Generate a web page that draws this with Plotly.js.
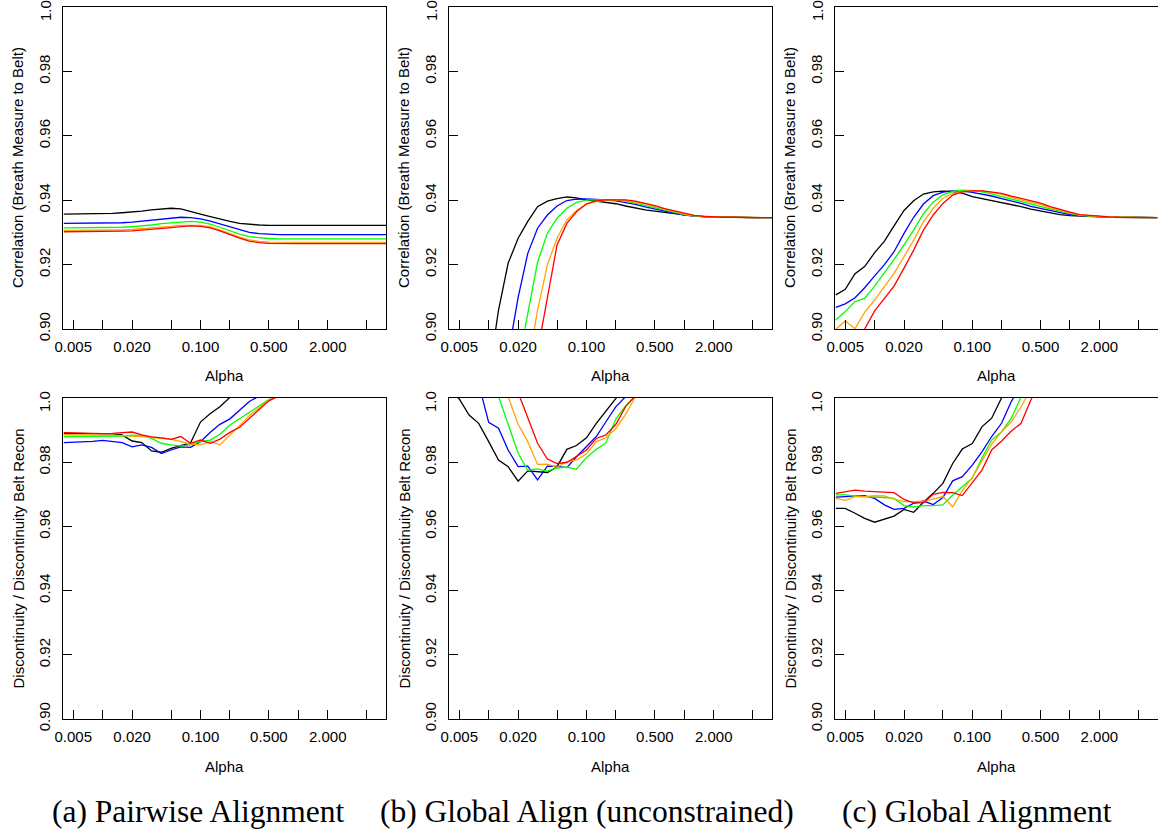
<!DOCTYPE html>
<html>
<head>
<meta charset="utf-8">
<script src="https://cdn.plot.ly/plotly-3.0.1.min.js"></script>
<style>
html, body { margin: 0; padding: 0; background: #ffffff; }
#chart { width: 1158px; height: 832px; }
</style>
</head>
<body>
<div id="chart"></div>
<script>
// ---------- shared x grid (alpha) and tick labels ----------
const ALPHA = [0.004, 0.005, 0.0063, 0.0079, 0.01, 0.0126, 0.0158, 0.02, 0.0251, 0.0316, 0.0398, 0.05, 0.063, 0.079, 0.1, 0.126, 0.158, 0.2, 0.251, 0.316, 0.398, 0.5, 0.63, 0.79, 1, 1.26, 1.58, 2, 2.51, 3.16, 3.98, 5, 6.3, 7.9];
const X_TICK_VALUES = [0.005, 0.01, 0.02, 0.05, 0.1, 0.2, 0.5, 1, 2, 5];
const X_TICK_TEXT = ["0.005", "", "0.020", "", "0.100", "", "0.500", "", "2.000", ""];
const Y_TICK_VALUES = [0.90, 0.92, 0.94, 0.96, 0.98, 1.00];
const Y_TICK_TEXT = ["0.90", "0.92", "0.94", "0.96", "0.98", ""];
const Y_TOP_LABEL = "1.0";   // top tick label, drawn just inside the figure edge
const SERIES_NAMES = ["black", "blue", "green", "orange", "red"];
const SERIES_COLORS = ["#000000", "#0000FF", "#00FF00", "#FFA500", "#FF0000"];
const X_TITLE = "Alpha";
const Y_TITLE_TOP = "Correlation (Breath Measure to Belt)";
const Y_TITLE_BOTTOM = "Discontinuity / Discontinuity Belt Recon";
const CAPTIONS = ["(a) Pairwise Alignment", "(b) Global Align (unconstrained)", "(c) Global Alignment"];

// ---------- (a) Pairwise alignment: correlation ----------
const CORR_PAIRWISE_BLACK  = [.9357,.9357,.9357,.9358,.9358,.9359,.9361,.9363,.9366,.9370,.9373,.9375,.9373,.9366,.9357,.9349,.9341,.9334,.9328,.9325,.9323,.9322,.9322,.9322,.9322,.9322,.9322,.9322,.9322,.9322,.9322,.9322,.9322,.9322];
const CORR_PAIRWISE_BLUE   = [.9328,.9328,.9328,.9328,.9328,.9329,.9330,.9332,.9335,.9338,.9342,.9345,.9347,.9346,.9342,.9335,.9326,.9316,.9307,.9300,.9296,.9294,.9293,.9293,.9293,.9293,.9293,.9293,.9293,.9293,.9293,.9293,.9293,.9293];
const CORR_PAIRWISE_GREEN  = [.9314,.9314,.9314,.9314,.9314,.9315,.9316,.9318,.9320,.9323,.9327,.9330,.9333,.9334,.9332,.9326,.9316,.9305,.9295,.9287,.9283,.9281,.9280,.9280,.9280,.9280,.9280,.9280,.9280,.9280,.9280,.9280,.9280,.9280];
const CORR_PAIRWISE_ORANGE = [.9306,.9306,.9306,.9306,.9306,.9307,.9308,.9309,.9311,.9313,.9316,.9319,.9322,.9323,.9322,.9317,.9308,.9296,.9285,.9277,.9272,.9270,.9269,.9269,.9269,.9269,.9269,.9269,.9269,.9269,.9269,.9269,.9269,.9269];
const CORR_PAIRWISE_RED    = [.9302,.9302,.9302,.9302,.9302,.9303,.9304,.9305,.9307,.9309,.9312,.9315,.9318,.9320,.9319,.9314,.9305,.9293,.9282,.9273,.9268,.9266,.9265,.9265,.9265,.9265,.9265,.9265,.9265,.9265,.9265,.9265,.9265,.9265];

// ---------- (b) Global align (unconstrained): correlation ----------
const CORR_UNCON_BLACK  = [null,null,null,null,.885,.9059,.9204,.9282,.9334,.9380,.9397,.9405,.9410,.9407,.9401,.9397,.9394,.9389,.9382,.9375,.9370,.9366,.9362,.9358,.9354,.9351,.9349,.9348,.9347,.9347,.9346,.9346,.9346,.9346];
const CORR_UNCON_BLUE   = [null,null,null,null,null,null,.892,.9098,.9235,.9313,.9354,.9382,.9399,.9403,.9404,.9403,.9401,.9398,.9393,.9387,.9379,.9372,.9365,.9360,.9354,.9351,.9349,.9348,.9347,.9347,.9346,.9346,.9346,.9346];
const CORR_UNCON_GREEN  = [null,null,null,null,null,null,null,.889,.9047,.9208,.9297,.9344,.9375,.9393,.9400,.9402,.9402,.9400,.9397,.9391,.9384,.9376,.9368,.9362,.9355,.9351,.9349,.9348,.9347,.9347,.9346,.9346,.9346,.9346];
const CORR_UNCON_ORANGE = [null,null,null,null,null,null,null,null,.888,.9059,.9199,.9282,.9339,.9368,.9387,.9396,.9400,.9401,.9399,.9395,.9389,.9381,.9372,.9365,.9357,.9352,.9350,.9348,.9347,.9347,.9346,.9346,.9346,.9346];
const CORR_UNCON_RED    = [null,null,null,null,null,null,null,null,null,.893,.9101,.9261,.9328,.9364,.9389,.9398,.9401,.9402,.9401,.9397,.9391,.9383,.9374,.9367,.9360,.9353,.9350,.9348,.9347,.9347,.9346,.9346,.9346,.9346];

// ---------- (c) Global alignment: correlation ----------
const CORR_GLOBAL_BLACK  = [.9106,.9123,.9172,.9194,.9237,.9273,.9320,.9368,.9398,.9419,.9426,.9428,.9427,.9422,.9411,.9405,.9400,.9394,.9387,.9380,.9372,.9366,.9360,.9355,.9352,.9350,.9349,.9348,.9347,.9347,.9346,.9346,.9346,.9346];
const CORR_GLOBAL_BLUE   = [.9067,.9078,.9097,.9128,.9165,.9200,.9240,.9297,.9347,.9388,.9414,.9425,.9429,.9428,.9424,.9419,.9413,.9405,.9398,.9390,.9381,.9374,.9367,.9361,.9355,.9352,.9350,.9349,.9348,.9347,.9347,.9346,.9346,.9346];
const CORR_GLOBAL_GREEN  = [.9028,.9054,.9085,.9095,.9133,.9173,.9216,.9261,.9307,.9358,.9394,.9417,.9427,.9431,.9430,.9426,.9420,.9411,.9403,.9395,.9388,.9381,.9373,.9366,.9359,.9353,.9351,.9349,.9348,.9347,.9347,.9346,.9346,.9346];
const CORR_GLOBAL_ORANGE = [.8999,.9025,.9001,.9052,.9090,.9131,.9173,.9225,.9276,.9333,.9375,.9406,.9420,.9427,.9430,.9429,.9425,.9418,.9409,.9401,.9394,.9387,.9377,.9368,.9361,.9354,.9351,.9349,.9348,.9347,.9347,.9346,.9346,.9346];
const CORR_GLOBAL_RED    = [null,null,.893,.9000,.9056,.9095,.9133,.9189,.9245,.9307,.9354,.9390,.9416,.9426,.9429,.9429,.9426,.9421,.9413,.9405,.9398,.9391,.9380,.9371,.9363,.9355,.9352,.9350,.9348,.9347,.9347,.9346,.9346,.9346];

// ---------- (a) Pairwise alignment: discontinuity ratio ----------
const DISC_PAIRWISE_BLACK  = [.9890,.9890,.9890,.9889,.9888,.9888,.9885,.9866,.9861,.9835,.9831,.9843,.9852,.9860,.9925,.9952,.9973,1.0001,1.003];
const DISC_PAIRWISE_BLUE   = [.9861,.9862,.9863,.9865,.9868,.9864,.9861,.9848,.9854,.9846,.9827,.9838,.9848,.9846,.9864,.9893,.9918,.9935,.9963,.9989,1.0006];
const DISC_PAIRWISE_GREEN  = [.9880,.9880,.9880,.9880,.9880,.9881,.9881,.9884,.9883,.9874,.9859,.9854,.9850,.9854,.9864,.9869,.9887,.9916,.9935,.9955,.9976,.9995,1.0005];
const DISC_PAIRWISE_ORANGE = [.9886,.9886,.9885,.9885,.9884,.9884,.9883,.9882,.9880,.9877,.9874,.9872,.9864,.9856,.9854,.9864,.9854,.9885,.9914,.9945,.9970,.9994,1.0005];
const DISC_PAIRWISE_RED    = [.9892,.9891,.9890,.9889,.9889,.9890,.9891,.9894,.9885,.9879,.9876,.9871,.9880,.9859,.9869,.9859,.9872,.9893,.9909,.9937,.9966,.9991,1.0006];

// ---------- (b) Global align (unconstrained): discontinuity ratio ----------
const DISC_UNCON_BLACK  = [1.0027,.9997,.9947,.9921,.9864,.9807,.9786,.9741,.9773,.9771,.9768,.9786,.9840,.9852,.9876,.9921,.9960,.9999,1.003];
const DISC_UNCON_BLUE   = [null,null,null,1.0044,.9924,.9906,.9838,.9786,.9788,.9745,.9788,.9787,.9783,.9817,.9848,.9880,.9926,.9973,1.0004];
const DISC_UNCON_GREEN  = [null,null,null,null,null,1.0005,.9921,.9828,.9775,.9779,.9772,.9782,.9785,.9778,.9815,.9840,.9860,.9935,.9975,1.0006];
const DISC_UNCON_ORANGE = [null,null,null,null,null,null,1.0004,.9918,.9864,.9793,.9794,.9784,.9802,.9807,.9826,.9864,.9876,.9905,.9949,1.0004];
const DISC_UNCON_RED    = [null,null,null,null,null,null,null,1.0017,.9938,.9859,.9810,.9796,.9799,.9817,.9838,.9874,.9885,.9918,.9973,1.0007];

// ---------- (c) Global alignment: discontinuity ratio ----------
const DISC_GLOBAL_BLACK  = [.9656,.9656,.9641,.9625,.9613,.9622,.9632,.9653,.9644,.9675,.9703,.9734,.9796,.9841,.9858,.9911,.9937,1.0001];
const DISC_GLOBAL_BLUE   = [.9691,.9693,.9695,.9696,.9687,.9667,.9653,.9656,.9672,.9679,.9668,.9690,.9742,.9755,.9791,.9833,.9880,.9922,.9989,1.004];
const DISC_GLOBAL_GREEN  = [.9698,.9698,.9694,.9693,.9693,.9690,.9687,.9665,.9661,.9665,.9665,.9667,.9698,.9723,.9750,.9814,.9869,.9895,.9937,1.0003];
const DISC_GLOBAL_ORANGE = [.9687,.9681,.9693,.9693,.9696,.9695,.9685,.9677,.9677,.9679,.9685,.9693,.9661,.9711,.9753,.9803,.9856,.9895,.9926,.9972,1.003];
const DISC_GLOBAL_RED    = [.9703,.9708,.9713,.9710,.9708,.9708,.9705,.9684,.9673,.9673,.9700,.9706,.9705,.9696,.9736,.9776,.9838,.9866,.9897,.9921,.9994,1.005];

// ---------- panels ----------
const PANELS = [
  [CORR_PAIRWISE_BLACK, CORR_PAIRWISE_BLUE, CORR_PAIRWISE_GREEN, CORR_PAIRWISE_ORANGE, CORR_PAIRWISE_RED],
  [CORR_UNCON_BLACK, CORR_UNCON_BLUE, CORR_UNCON_GREEN, CORR_UNCON_ORANGE, CORR_UNCON_RED],
  [CORR_GLOBAL_BLACK, CORR_GLOBAL_BLUE, CORR_GLOBAL_GREEN, CORR_GLOBAL_ORANGE, CORR_GLOBAL_RED],
  [DISC_PAIRWISE_BLACK, DISC_PAIRWISE_BLUE, DISC_PAIRWISE_GREEN, DISC_PAIRWISE_ORANGE, DISC_PAIRWISE_RED],
  [DISC_UNCON_BLACK, DISC_UNCON_BLUE, DISC_UNCON_GREEN, DISC_UNCON_ORANGE, DISC_UNCON_RED],
  [DISC_GLOBAL_BLACK, DISC_GLOBAL_BLUE, DISC_GLOBAL_GREEN, DISC_GLOBAL_ORANGE, DISC_GLOBAL_RED]
];

const W = 1158, H = 832;
const COL_PX = [[63, 386], [449, 772], [835, 1157.5]];
const ROW_PX = [[7, 329], [398, 719]];
const FONT = "Liberation Sans, Arial, Helvetica, sans-serif";
const SERIF = "Liberation Serif, Times New Roman, serif";

const traces = [];
const layout = {
  width: W, height: H,
  margin: {l: 0, r: 0, t: 0, b: 0, pad: 0},
  paper_bgcolor: "#ffffff", plot_bgcolor: "#ffffff",
  showlegend: false,
  font: {family: FONT, size: 15, color: "#000000"},
  annotations: []
};

PANELS.forEach(function (panel, p) {
  const col = p % 3, row = Math.floor(p / 3);
  const n = p + 1;
  const xa = "x" + (n === 1 ? "" : n), ya = "y" + (n === 1 ? "" : n);
  panel.forEach(function (ys, s) {
    traces.push({
      type: "scatter", mode: "lines",
      x: ALPHA.slice(0, ys.length), y: ys,
      name: SERIES_NAMES[s],
      line: {color: SERIES_COLORS[s], width: 1.3},
      xaxis: xa, yaxis: ya,
      connectgaps: false, hoverinfo: "skip"
    });
  });
  const xd = [COL_PX[col][0] / W, COL_PX[col][1] / W];
  const yd = [1 - ROW_PX[row][1] / H, 1 - ROW_PX[row][0] / H];
  layout["xaxis" + (n === 1 ? "" : n)] = {
    type: "log", range: [-2.406, 0.897], domain: xd, anchor: ya,
    tickmode: "array", tickvals: X_TICK_VALUES, ticktext: X_TICK_TEXT,
    ticks: "inside", ticklen: 9, tickwidth: 1, tickcolor: "#000",
    showline: true, linecolor: "#000", linewidth: 1, mirror: true,
    showgrid: false, zeroline: false, fixedrange: true,
    tickfont: {family: FONT, size: 15, color: "#000"},
    ticklabelstandoff: 4
  };
  layout["yaxis" + (n === 1 ? "" : n)] = {
    range: [0.9, 1.0], domain: yd, anchor: xa,
    tickmode: "array", tickvals: Y_TICK_VALUES, ticktext: Y_TICK_TEXT,
    tickangle: -90,
    ticks: "inside", ticklen: 9, tickwidth: 1, tickcolor: "#000",
    showline: true, linecolor: "#000", linewidth: 1, mirror: true,
    showgrid: false, zeroline: false, fixedrange: true,
    tickfont: {family: FONT, size: 15, color: "#000"},
    ticklabelstandoff: 6
  };
  const cx = (COL_PX[col][0] + COL_PX[col][1]) / 2;
  const cy = (ROW_PX[row][0] + ROW_PX[row][1]) / 2;
  // top y tick label, kept inside the sub-figure's top edge
  layout.annotations.push({
    text: Y_TOP_LABEL, xref: "paper", yref: "paper",
    x: (COL_PX[col][0] - 18) / W, y: 1 - (ROW_PX[row][0] + 4) / H, textangle: -90,
    xanchor: "center", yanchor: "middle", showarrow: false,
    font: {family: FONT, size: 15, color: "#000"}
  });
  // x title
  layout.annotations.push({
    text: X_TITLE, xref: "paper", yref: "paper",
    x: cx / W, y: 1 - (ROW_PX[row][1] + 47) / H,
    xanchor: "center", yanchor: "middle", showarrow: false,
    font: {family: FONT, size: 15, color: "#000"}
  });
  // y title
  layout.annotations.push({
    text: row === 0 ? Y_TITLE_TOP : Y_TITLE_BOTTOM, xref: "paper", yref: "paper",
    x: (COL_PX[col][0] - 45) / W, y: 1 - cy / H, textangle: -90,
    xanchor: "center", yanchor: "middle", showarrow: false,
    font: {family: FONT, size: 15, color: "#000"}
  });
});

const CAPTION_X = [198, 587, 977];
CAPTIONS.forEach(function (c, i) {
  layout.annotations.push({
    text: c, xref: "paper", yref: "paper",
    x: CAPTION_X[i] / W, y: 1 - 811 / H,
    xanchor: "center", yanchor: "middle", showarrow: false,
    font: {family: SERIF, size: 31.5, color: "#000"}
  });
});

Plotly.newPlot("chart", traces, layout, {displayModeBar: false, staticPlot: true});
</script>
</body>
</html>
